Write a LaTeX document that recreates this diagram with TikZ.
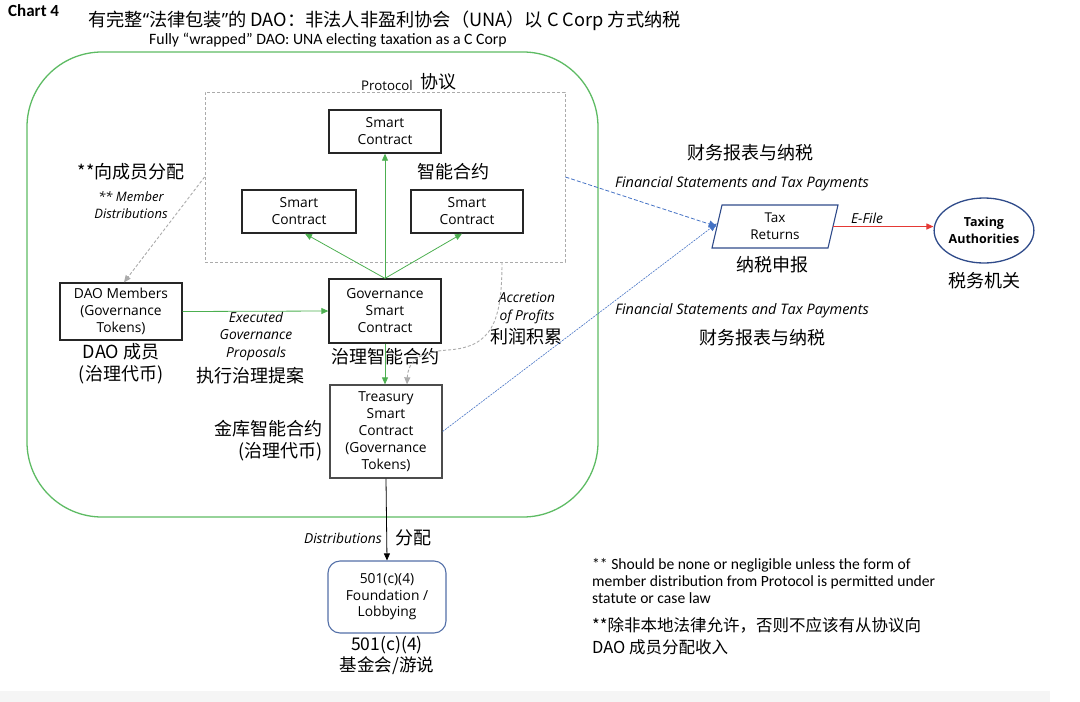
\documentclass[tikz,border=0pt]{standalone}
\usepackage{fontspec}
\setmainfont{Carlito}
\newfontfamily\cjk{Noto Sans CJK SC}
\newfontfamily\osans{Open Sans}
\usetikzlibrary{shapes.geometric,arrows.meta}
\definecolor{ugreen}{HTML}{5DBB63}
\definecolor{agreen}{HTML}{4CAF50}
\definecolor{dgray}{HTML}{ABABAB}
\definecolor{ablue}{HTML}{4472C4}
\definecolor{nblue}{HTML}{2F4B8A}
\definecolor{bblue}{HTML}{5470A8}
\definecolor{ered}{HTML}{E53935}
\begin{document}
\begin{tikzpicture}[x=1pt,y=-1pt,
  box/.style={draw=black!85, line width=1.3pt, fill=white, align=center,
    font=\osans\fontsize{13.8}{17}\selectfont, inner sep=0pt},
  zh/.style={font=\cjk\fontsize{18}{22}\selectfont, align=center, inner sep=0pt},
  lab/.style={font=\osans\itshape\fontsize{13.8}{17.5}\selectfont, align=center, inner sep=0pt},
  garrow/.style={draw=agreen, line width=0.8pt, -{Triangle[length=7pt,width=6pt]}},
  grayarrow/.style={draw=dgray, line width=0.9pt, dash pattern=on 3pt off 2pt, -{Triangle[length=7pt,width=6pt,fill=dgray]}},
  bluearrow/.style={draw=ablue, line width=0.8pt, -{Triangle[length=8pt,width=7pt]}},
]
\useasboundingbox (0,0) rectangle (1080,702);
\fill[black!4] (0,691) rectangle (1050,702);

% titles
\node[anchor=west, inner sep=0pt, font=\bfseries\fontsize{17}{19}\selectfont] (chart) at (8,11) {Chart 4};
\node[anchor=west, inner sep=0pt, font=\cjk\fontsize{18.2}{20}\selectfont] (title) at (88,21) {有完整{\osans“}法律包装{\osans”}的 DAO：非法人非盈利协会（UNA）以 C Corp 方式纳税};
\node[inner sep=0pt, font=\fontsize{15.8}{17}\selectfont] (sub) at (328,40) {Fully “wrapped” DAO: UNA electing taxation as a C Corp};

% container
\node[draw=ugreen, line width=1.3pt, rounded corners=75pt, minimum width=571pt, minimum height=465pt, inner sep=0pt] (una) at (312.5,284.5) {};

% protocol box
\node[draw=dgray, line width=0.9pt, dash pattern=on 3pt off 2pt, minimum width=360pt, minimum height=170pt, inner sep=0pt] (proto) at (385,177) {};
\node[anchor=east, inner sep=0pt, font=\osans\fontsize{13.3}{15}\selectfont] (protol) at (413,86) {Protocol};
\node[anchor=west, inner sep=0pt, font=\cjk\fontsize{18}{20}\selectfont] (protoz) at (420,82) {协议};

% smart contracts
\node[box, minimum width=112pt, minimum height=43pt] (sct) at (385,131.5) {Smart\\Contract};
\node[box, minimum width=114pt, minimum height=43pt] (scl) at (299,211.5) {Smart\\Contract};
\node[box, minimum width=112pt, minimum height=43pt] (scr) at (467,211.5) {Smart\\Contract};
\node[zh] (scz) at (453,172) {智能合约};

% governance
\node[box, minimum width=112pt, minimum height=64pt] (gov) at (385,311) {Governance\\Smart\\Contract};
\node[zh] (govz) at (385,357) {治理智能合约};

% treasury
\node[box, draw=black!70, minimum width=112pt, minimum height=93pt] (treas) at (386,431.5) {Treasury\\Smart\\Contract\\(Governance\\Tokens)};
\node[zh, align=right, anchor=east] (treasz) at (323,441) {金库智能合约\\(治理代币)};

% DAO members
\node[box, minimum width=122pt, minimum height=57pt] (dao) at (121,311.5) {DAO Members\\(Governance\\Tokens)};
\node[zh] (daoz) at (121,364) {DAO 成员\\(治理代币)};

% member distributions labels
\node[zh] (mdz) at (131,172) {**向成员分配};
\node[lab, font=\osans\itshape\fontsize{13}{16.5}\selectfont] (md) at (131,205) {** Member\\Distributions};

% executed proposals
\node[lab] (exec) at (256,336) {Executed\\Governance\\Proposals};
\node[zh] (execz) at (250,376) {执行治理提案};

% accretion
\node[lab] (acc l) at (527,308) {Accretion\\of Profits};
\node[zh] (accz) at (526,337) {利润积累};

% tax returns
\node[inner sep=0pt, minimum width=116pt, minimum height=43pt, align=center, font=\osans\fontsize{13.5}{17}\selectfont] (tax) at (775,226.5) {Tax\\Returns};
\draw[nblue, line width=1.1pt] (722,205) -- (838,205) -- (828,248) -- (712,248) -- cycle;
\node[zh] (taxz) at (772,265) {纳税申报};

% taxing authorities
\node[draw=nblue, line width=1.3pt, ellipse, minimum width=85pt, minimum height=65pt, inner sep=0pt, align=center, font=\osans\bfseries\fontsize{12.5}{17}\selectfont] (auth) at (984,230.5) {Taxing\\Authorities};
\node[zh] (authz) at (984,281) {税务机关};

% financial statement labels
\node[zh] (fs1z) at (750,153) {财务报表与纳税};
\node[lab, font=\osans\itshape\fontsize{14.5}{17}\selectfont] (fs1) at (742,184) {Financial Statements and Tax Payments};
\node[lab, font=\osans\itshape\fontsize{14.5}{17}\selectfont] (fs2) at (742,311) {Financial Statements and Tax Payments};
\node[zh] (fs2z) at (762,338) {财务报表与纳税};
\node[lab] (efile) at (867,218) {E-File};

% 501(c)(4)
\node[box, draw=bblue, line width=1.1pt, rounded corners=12pt, minimum width=118pt, minimum height=72pt, font=\osans\fontsize{13.8}{16.5}\selectfont] (fnd) at (387,597) {501(c)(4)\\Foundation /\\Lobbying};
\node[zh, font=\cjk\fontsize{17.5}{21}\selectfont] (fndz) at (387,655) {501(c)(4)\\基金会/游说};
\node[lab, anchor=east] (dist) at (382,538) {Distributions};
\node[zh, anchor=west] (distz) at (395,538) {分配};

% note
\node[anchor=north west, inner sep=0pt, align=left, font=\fontsize{15.6}{17}\selectfont] (note) at (592,558) {** Should be none or negligible unless the form of\\member distribution from Protocol is permitted under\\statute or case law};
\node[anchor=north west, inner sep=0pt, align=left, font=\cjk\fontsize{16.5}{22}\selectfont] (notez) at (592,617) {**除非本地法律允许，否则不应该有从协议向\\DAO 成员分配收入};

% connectors
\draw[garrow] (gov.north) -- (sct.south);
\draw[garrow] (gov.north) -- ([xshift=6pt]scl.south);
\draw[garrow] (gov.north) -- ([xshift=-5pt]scr.south);
\draw[garrow] (dao.east) -- (gov.west);
\draw[garrow] (gov.south) -- (treas.north -| gov.south);
\draw[grayarrow] (proto.west) -- ([xshift=3pt]dao.north);
\coordinate (accs) at (502,262);
\draw[grayarrow] (accs) .. controls (502,322) and (492,347) .. (448,350) .. controls (418,352) and (408,362) .. ([xshift=21pt]treas.north);
\draw[bluearrow, dash pattern=on 4pt off 2pt] (proto.east) -- (tax.west);
\draw[bluearrow, line width=0.6pt, dash pattern=on 2pt off 1pt] (treas.east) -- ([yshift=3pt]tax.west);
\draw[draw=ered, line width=0.9pt, -{Triangle[length=7pt,width=6pt]}] (tax.east) -- (tax.east -| auth.west);
\draw[draw=black, line width=0.8pt, -{Triangle[length=7pt,width=6pt]}] (treas.south) -- (fnd.north);
\end{tikzpicture}
\end{document}
